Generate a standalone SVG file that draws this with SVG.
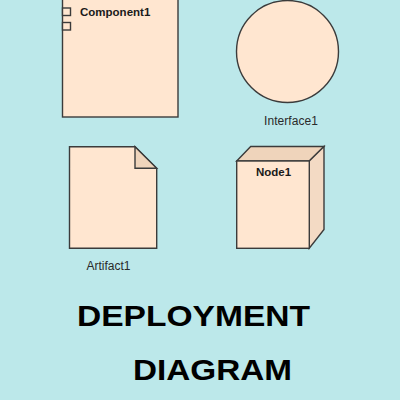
<svg xmlns="http://www.w3.org/2000/svg" width="400" height="400" viewBox="0 0 400 400">
  <defs>
    <style>
      .shape { fill: #FFE6D0; stroke: #3b3b3b; stroke-width: 1.4; stroke-linejoin: miter; }
      .shade { fill: #EFD4BB; stroke: #3b3b3b; stroke-width: 1.4; }
      .side { fill: #F3DAC4; stroke: #3b3b3b; stroke-width: 1.4; }
      .name { font-family: "Liberation Sans", Arial, sans-serif; font-size: 11.5px; font-weight: bold; fill: #1a1a1a; }
      .caption { font-family: "Liberation Sans", Arial, sans-serif; font-size: 12px; fill: #2a2a2a; }
      .title { font-family: "Liberation Sans", Arial, sans-serif; font-size: 29.5px; font-weight: bold; fill: #000; }
    </style>
  </defs>

  <rect x="0" y="0" width="400" height="400" fill="#BCE8EA"/>

  <!-- component -->
  <g id="component1">
    <rect class="shape" x="62.5" y="-2" width="115.5" height="119"/>
    <rect class="shape" x="62.5" y="8" width="8" height="7.5"/>
    <rect class="shape" x="62.5" y="22.5" width="8" height="7.5"/>
    <text class="name" x="80" y="16">Component1</text>
  </g>

  <!-- interface -->
  <g id="interface1">
    <circle class="shape" cx="287.5" cy="51.5" r="51"/>
    <text class="caption" x="264" y="125" textLength="54">Interface1</text>
  </g>

  <!-- artifact -->
  <g id="artifact1">
    <path class="shape" d="M69.5 146.7 H135 L156.7 168.3 V248.3 H69.5 Z"/>
    <path class="shade" d="M135 146.7 V168.3 H156.7 Z"/>
    <text class="caption" x="86.5" y="270">Artifact1</text>
  </g>

  <!-- node -->
  <g id="node1">
    <path class="shade" d="M236.7 161 L250.7 146.5 H324 L309.3 161 Z"/>
    <path class="side" d="M309.3 161 L324 146.5 V229.5 L309.3 248.3 Z"/>
    <rect class="shape" x="236.7" y="161" width="72.6" height="87.3"/>
    <text class="name" x="256" y="175.7">Node1</text>
  </g>

  <!-- heading -->
  <g id="heading">
    <text class="title" x="77" y="326" textLength="233" lengthAdjust="spacingAndGlyphs">DEPLOYMENT</text>
    <text class="title" x="133" y="380" textLength="159" lengthAdjust="spacingAndGlyphs">DIAGRAM</text>
  </g>
</svg>
